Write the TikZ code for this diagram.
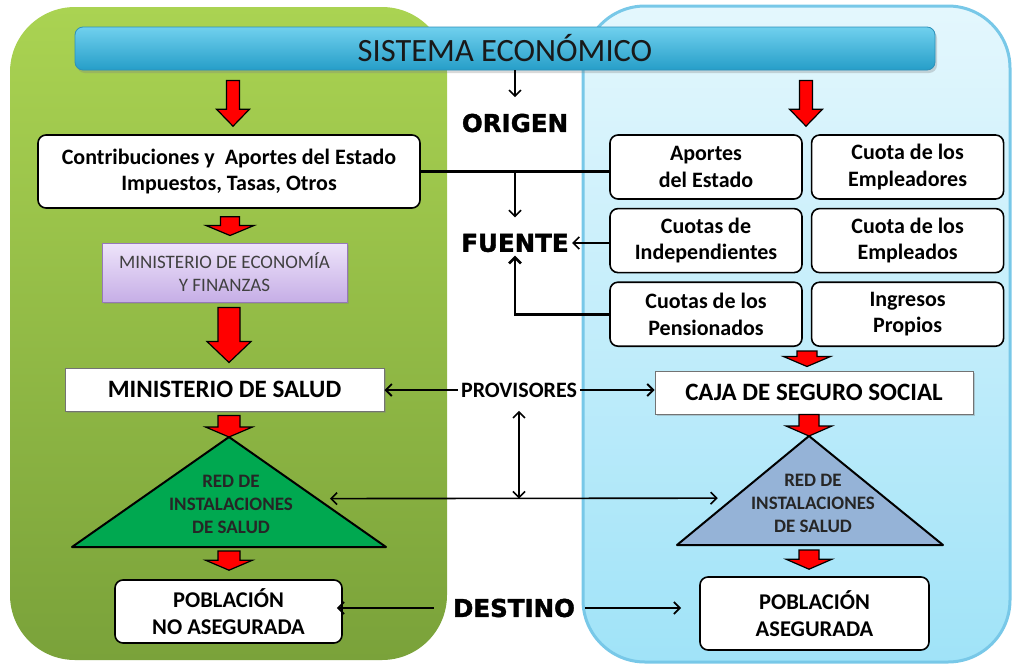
\documentclass[tikz,border=0pt]{standalone}
\usepackage{fontspec}
\setmainfont{Carlito}
\newfontfamily\heavyfont[BoldFeatures={FakeBold=1.6}]{DejaVu Sans}
\usepackage{tikz}
\usetikzlibrary{positioning, arrows.meta, calc, shadows}

\definecolor{greentop}{RGB}{170,211,82}
\definecolor{greenbot}{RGB}{122,162,58}
\definecolor{bluetop}{RGB}{228,247,253}
\definecolor{bluebot}{RGB}{160,227,248}
\definecolor{blueedge}{RGB}{120,200,232}
\definecolor{bartop}{RGB}{112,208,238}
\definecolor{barbot}{RGB}{38,158,200}
\definecolor{baredge}{RGB}{45,145,185}
\definecolor{meftop}{RGB}{238,228,250}
\definecolor{mefbot}{RGB}{198,174,230}
\definecolor{mefedge}{RGB}{150,120,185}
\definecolor{gnetfill}{RGB}{0,168,80}
\definecolor{bnetfill}{RGB}{149,179,215}

% red block arrow: start, tip, shaft width, head width, head length
\newcommand{\redblock}[5]{%
  \coordinate (rb-s) at (#1);
  \coordinate (rb-e) at (#2);
  \coordinate (rb-h) at ($(rb-e)+(0,-#5)$);
  \filldraw[redarr] ($(rb-s)+(-#3/2,0)$) -- ($(rb-s |- rb-h)+(-#3/2,0)$) -- ($(rb-s |- rb-h)+(-#4/2,0)$) -- (rb-s |- rb-e) -- ($(rb-s |- rb-h)+(#4/2,0)$) -- ($(rb-s |- rb-h)+(#3/2,0)$) -- ($(rb-s)+(#3/2,0)$) -- cycle;%
}

\begin{document}
\begin{tikzpicture}[
  x=1pt, y=-1pt,
  node distance=8pt and 8pt,
  box/.style={rectangle, draw, line width=1.6pt, rounded corners=8pt, fill=white, minimum width=192pt, minimum height=64pt, inner sep=2pt, font=\fontsize{22}{26.5}\selectfont\bfseries},
  plainbox/.style={rectangle, draw=black!55, line width=1pt, fill=white, minimum height=43pt, font=\fontsize{25}{28}\selectfont\bfseries, drop shadow={shadow xshift=2pt, shadow yshift=-2pt, opacity=0.35}},
  mefbox/.style={rectangle, draw=mefedge, line width=1pt, top color=meftop, bottom color=mefbot, minimum width=245pt, minimum height=59pt, text=black!75, font=\fontsize{19}{23}\selectfont, drop shadow={shadow xshift=2pt, shadow yshift=-2pt, opacity=0.3}},
  titlebar/.style={rectangle, rounded corners=8pt, draw=baredge, line width=0.8pt, top color=bartop, bottom color=barbot, minimum width=860pt, minimum height=43pt, text=black!90, font=\fontsize{32.5}{36}\selectfont, drop shadow={shadow xshift=2pt, shadow yshift=-3pt, opacity=0.3}},
  mid/.style={font=\heavyfont\bfseries\fontsize{24.5}{28}\selectfont},
  provlabel/.style={font=\fontsize{22}{25}\selectfont\bfseries},
  trilabel/.style={font=\fontsize{19}{23}\selectfont\bfseries, text=black!85},
  net/.style={draw, line width=2pt, line join=round},
  conn/.style={-{Straight Barb[length=6pt, width=12pt]}, line width=1.8pt},
  twoway/.style={{Straight Barb[length=6pt, width=12pt]}-{Straight Barb[length=6pt, width=12pt]}, line width=1.6pt},
  redarr/.style={fill=red, draw=black, line width=1.2pt, line join=miter},
  every node/.style={align=center}
]
\useasboundingbox (0,0) rectangle (1013,667);

%% Panels
\shade[rounded corners=65pt, top color=greentop, bottom color=greenbot] (10,7) rectangle (447,660);
\shade[rounded corners=62pt, top color=bluetop, bottom color=bluebot, draw=blueedge, line width=3pt] (583,6) rectangle (1010,662);

%% Top bar
\node[titlebar] (title) at (505,48.5) {SISTEMA ECONÓMICO};

%% Left column: Estado
\node[box, minimum width=382pt, minimum height=73pt, font=\fontsize{22}{25.5}\selectfont\bfseries] (contrib) at (229,171.5) {Contribuciones y\ \ Aportes del Estado\\Impuestos, Tasas, Otros};
\node[mefbox] (mef) at (224.5,272.5) {MINISTERIO DE ECONOMÍA\\Y FINANZAS};
\node[plainbox, minimum width=319pt] (minsal) at (224.5,389.5) {MINISTERIO DE SALUD};
\coordinate (gtop) at (229,437);
\coordinate (gleft) at (72,547);
\coordinate (gright) at (386,547);
\draw[net, fill=gnetfill] (gtop) -- (gleft) -- (gright) -- cycle;
\node[trilabel] (gred) at (231,504) {RED DE\\INSTALACIONES\\DE SALUD};
\node[box, minimum width=227pt, minimum height=63pt, font=\fontsize{22.5}{27}\selectfont\bfseries] (pobno) at (228.5,611.5) {POBLACIÓN\\NO ASEGURADA};

%% Middle labels
\node[mid] (origen) at (515,123) {ORIGEN};
\node[mid] (fuente) at (515,243) {FUENTE};
\node[provlabel] (provis) at (519,390) {PROVISORES};
\node[mid] (destino) at (514,608) {DESTINO};

%% Right column: Seguro Social
\node[box] (aportes) at (706,167) {Aportes\\del Estado};
\node[box, right=8pt of aportes] (empleadores) {Cuota de los\\Empleadores};
\node[box, below=8pt of aportes] (indep) {Cuotas de\\Independientes};
\node[box, right=8pt of indep] (empleados) {Cuota de los\\Empleados};
\node[box, below=8pt of indep] (pension) {Cuotas de los\\Pensionados};
\node[box, right=8pt of pension] (propios) {Ingresos\\Propios};
\node[plainbox, minimum width=318pt] (caja) at (814,392.5) {CAJA DE SEGURO SOCIAL};
\coordinate (btop) at (809,436);
\coordinate (bleft) at (677,545);
\coordinate (bright) at (943,545);
\draw[net, fill=bnetfill] (btop) -- (bleft) -- (bright) -- cycle;
\node[trilabel] (bred) at (813,503) {RED DE\\INSTALACIONES\\DE SALUD};
\node[box, minimum width=229pt, minimum height=73pt, font=\fontsize{22.5}{27}\selectfont\bfseries] (pobsi) at (814.5,613.5) {POBLACIÓN\\ASEGURADA};

%% Red flow arrows
\redblock{$(title.south -| contrib.north)+(4,10)$}{$(contrib.north)+(4,-8)$}{13}{33}{17}
\redblock{$(contrib.south)+(1,8)$}{$(mef.north)+(0,-7)$}{19}{48}{10}
\redblock{$(mef.south -| contrib.south)+(0,5)$}{$(minsal.north)+(0,-5)$}{22}{44}{21}
\redblock{$(minsal.south -| gtop)+(0,4)$}{gtop}{22}{47}{10}
\redblock{$(gleft -| gtop)+(0,4)$}{$(pobno.north -| gtop)+(0,-9)$}{22}{47}{10}
\redblock{$(title.south -| btop)+(-3,10)$}{$(aportes.north -| btop)+(-3,-8)$}{13}{33}{17}
\redblock{$(pension.south -| btop)+(-2,4)$}{$(caja.north -| btop)+(-2,-4)$}{20}{47}{10}
\redblock{caja.south -| btop}{btop}{20}{46}{10}
\redblock{$(bleft -| btop)+(0,5)$}{$(pobsi.north -| btop)+(0,-7)$}{20}{46}{10}

%% Origen and fuente
\draw[conn, line width=1.6pt, shorten >=13pt] (title.south -| origen) -- (origen.north);
\draw[line width=3.5pt] (contrib.east) -- (contrib.east -| aportes.west);
\coordinate (split) at (contrib.east -| fuente);
\draw[conn, line width=1.6pt, shorten >=13pt] (split) -- (fuente.north);
\draw[conn, line width=1.6pt] (indep.west |- fuente.east) -- (fuente.east);
\draw[conn, line width=2.6pt] (pension.west) -| (fuente.south);

%% Provisores
\draw[conn] (provis.west) -- (provis.west -| minsal.east);
\draw[conn] (provis.east) -- (provis.east -| caja.west);
\coordinate (gedge) at ($(gtop)!0.56!(gright)$);
\coordinate (bedge) at ($(btop)!0.57!(bleft)$);
\coordinate (cruce) at (provis |- gedge);
\draw[twoway, shorten <=13pt, shorten >=16pt] (gedge) -- (bedge);
\draw[twoway, shorten >=10pt] (cruce) -- (provis.south);

%% Destino
\draw[conn, shorten <=16pt, shorten >=-6pt] (destino.west) -- (destino.west -| pobno.east);
\draw[conn, shorten <=7pt, shorten >=18pt] (destino.east) -- (destino.east -| pobsi.west);

\end{tikzpicture}
\end{document}
